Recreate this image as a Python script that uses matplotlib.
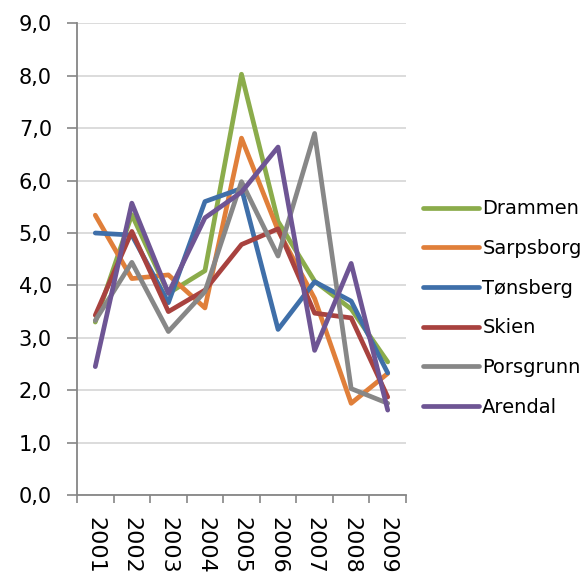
import matplotlib
matplotlib.use('Agg')
import matplotlib.pyplot as plt
import numpy as np

years = ['2001', '2002', '2003', '2004', '2005', '2006', '2007', '2008', '2009']
cities = ['Drammen', 'Sarpsborg', 'Tønsberg', 'Skien', 'Porsgrunn', 'Arendal']

drammen = [3.30, 5.35, 3.85, 4.28, 8.03, 5.22, 4.08, 3.55, 2.54]
sarpsborg = [5.34, 4.13, 4.20, 3.57, 6.81, 5.05, 3.75, 1.75, 2.32]
tonsberg = [5.00, 4.96, 3.67, 5.60, 5.85, 3.16, 4.07, 3.70, 2.33]
skien = [3.43, 5.03, 3.50, 3.91, 4.78, 5.08, 3.47, 3.38, 1.87]
porsgrunn = [3.33, 4.44, 3.12, 3.88, 5.98, 4.56, 6.90, 2.03, 1.75]
arendal = [2.45, 5.57, 3.85, 5.29, 5.78, 6.64, 2.76, 4.42, 1.62]

series = [drammen, sarpsborg, tonsberg, skien, porsgrunn, arendal]
colors = ['#8BAC4B', '#E07F3A', '#3F6FA9', '#A8423F', '#878787', '#6E5594']

plt.rcParams['font.family'] = ['DejaVu Sans']

fig = plt.figure(figsize=(5.84, 5.76), dpi=100)
ax = fig.add_axes([77 / 584, 1 - 495 / 576, (406 - 77) / 584, (495 - 23.4) / 576])

x = np.arange(len(years))
for name, values, color in zip(cities, series, colors):
    ax.plot(x, values, color=color, lw=3.4, label=name,
            solid_joinstyle='round', solid_capstyle='round')

ax.set_xlim(-0.5, len(years) - 0.5)
ax.set_ylim(0, 9)
ax.set_yticks(np.arange(0, 9.5, 1.0))
ax.set_yticklabels([f'{v:.1f}'.replace('.', ',') for v in np.arange(0, 9.5, 1.0)], fontsize=15)
ax.yaxis.grid(True, color='#D9D9D9', lw=1.3)
ax.set_axisbelow(True)

ax.set_xticks(np.arange(-0.5, len(years), 1.0))
ax.set_xticklabels([])
ax.set_xticks(x, minor=True)
ax.set_xticklabels(years, minor=True, rotation=270, fontsize=16, va='top', ha='center')
ax.tick_params(axis='x', which='minor', length=0, pad=16)
ax.tick_params(axis='x', which='major', length=6, color='#868686', width=1.2)
ax.tick_params(axis='y', length=7, color='#868686', width=1.2, pad=11)

for side in ['top', 'right']:
    ax.spines[side].set_visible(False)
for side in ['left', 'bottom']:
    ax.spines[side].set_color('#868686')
    ax.spines[side].set_linewidth(1.3)

fig.legend(loc='center left', bbox_to_anchor=(423 / 584, 1 - 308 / 576), frameon=False,
           fontsize=14, handlelength=2.9, handletextpad=0.15, labelspacing=1.06,
           borderpad=0, borderaxespad=0)

plt.savefig('out.png', dpi=100)
plt.close(fig)
